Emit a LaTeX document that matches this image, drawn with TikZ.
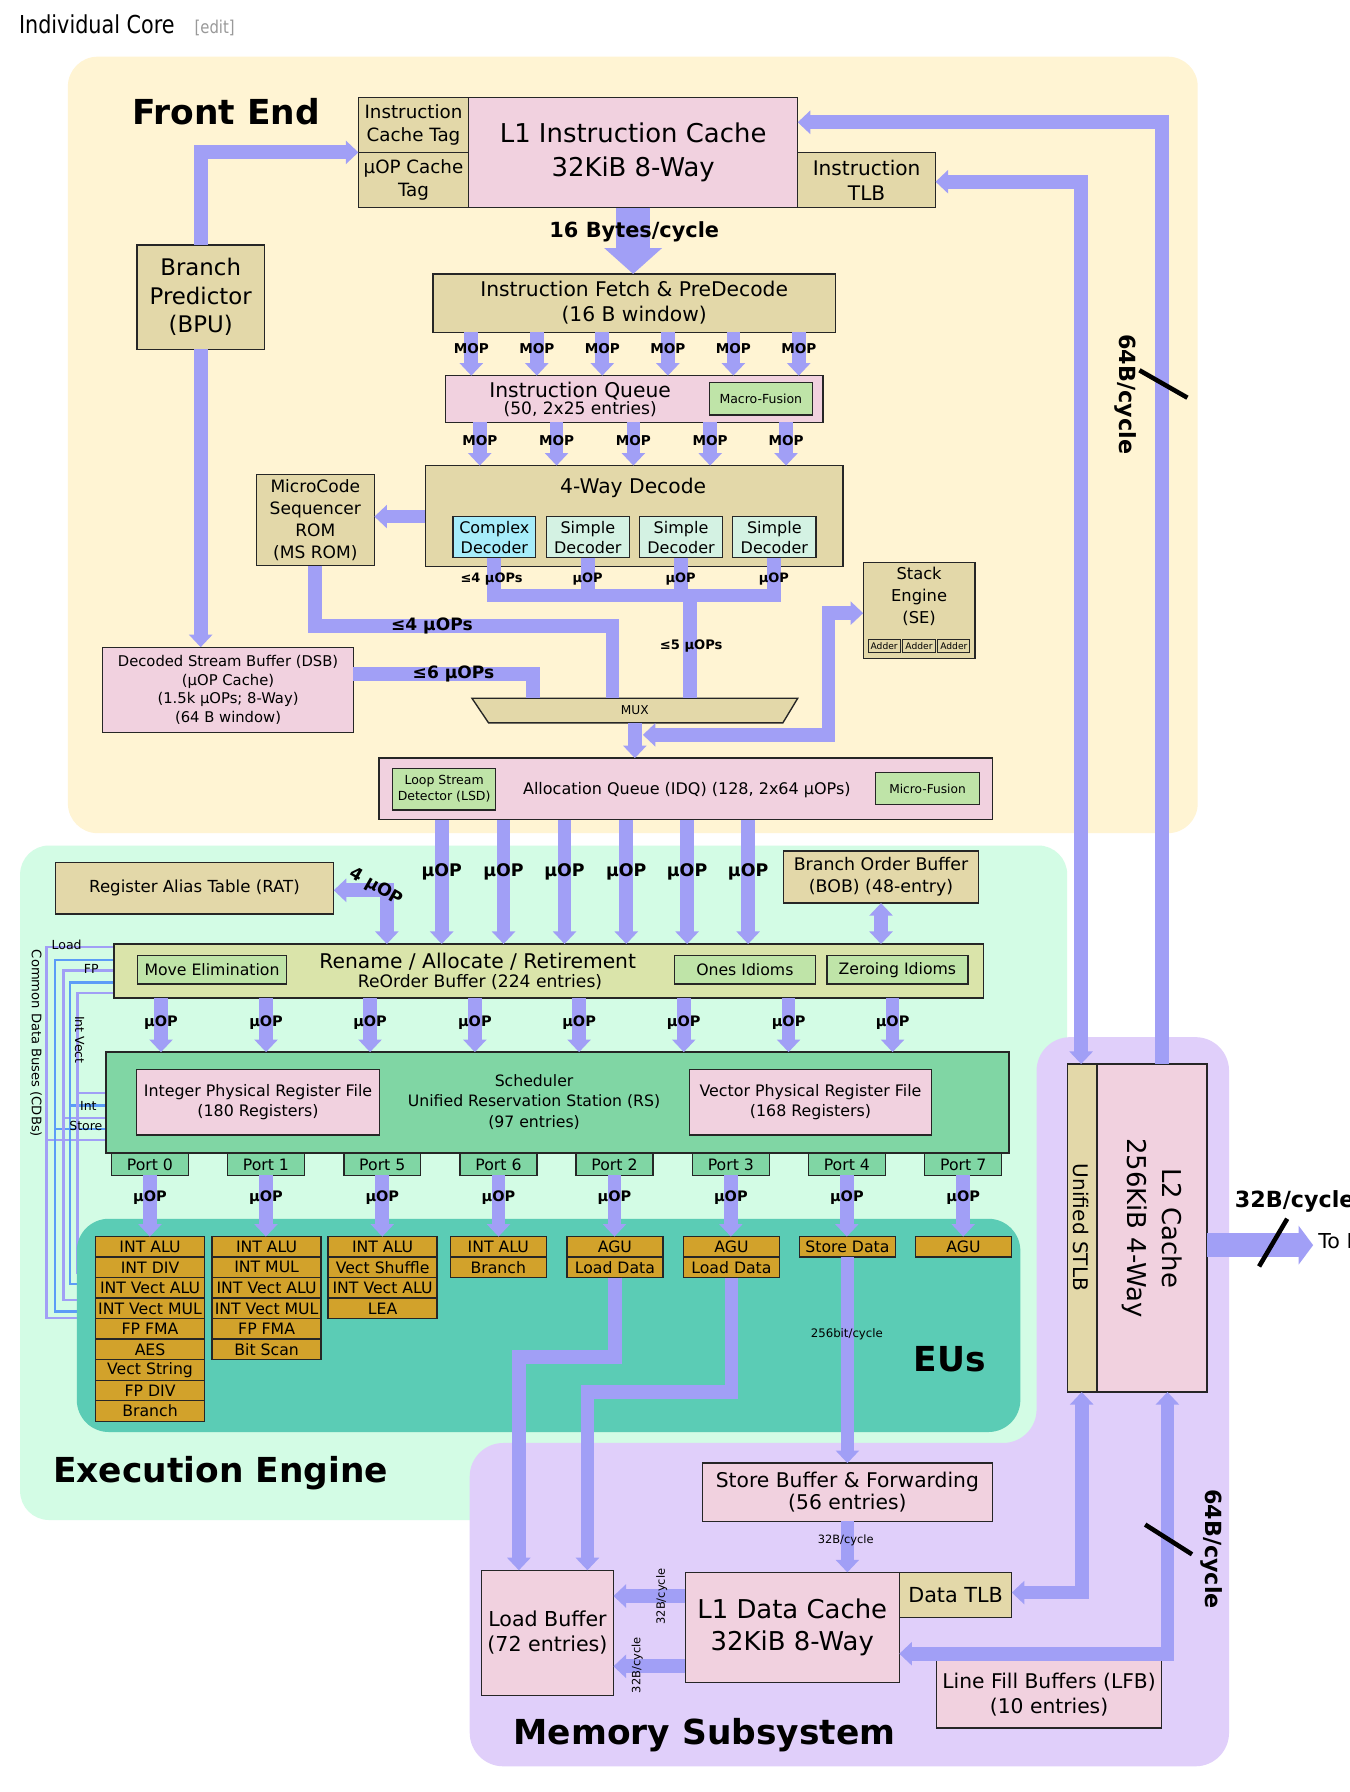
\documentclass[tikz,border=0pt]{standalone}
\usepackage{fontspec}
\setmainfont{DejaVu Sans}
\newfontfamily\hdrfont[FakeStretch=0.84]{DejaVu Sans}
\usetikzlibrary{arrows.meta}
\pgfdeclarelayer{back}
\pgfdeclarelayer{wires}
\pgfdeclarelayer{eus}
\pgfsetlayers{back,wires,eus,main}

\newcommand{\fsz}[2]{\fontsize{#1}{#2}\selectfont}

\definecolor{febg}{HTML}{FFF4D3}
\definecolor{eebg}{HTML}{D3FCE5}
\definecolor{membg}{HTML}{E0CFFA}
\definecolor{eubg}{HTML}{5BCCB5}
\definecolor{tanc}{HTML}{E3D8A9}
\definecolor{pinkc}{HTML}{F1D1DF}
\definecolor{lgrn}{HTML}{BFE4A8}
\definecolor{decc}{HTML}{D4F2E3}
\definecolor{cyanc}{HTML}{A7EDFA}
\definecolor{renc}{HTML}{DAE4AA}
\definecolor{schc}{HTML}{80D6A4}
\definecolor{euc}{HTML}{D2A22B}
\definecolor{arrc}{HTML}{A19FF6}
\definecolor{cdbblue}{HTML}{5C9CF7}

% box from corner (#3,#4) to corner (#5,#6), in picture units
\newcommand{\mkbox}[7][]{%
  \pgfmathsetmacro{\bxw}{(#5-#3)*0.75}%
  \pgfmathsetmacro{\bxh}{(#6-#4)*0.75}%
  \node[box,minimum width=\bxw pt,minimum height=\bxh pt,#1] (#2) at ({(#3+#5)/2},{(#4+#6)/2}) {#7};}

% column of execution units under a port
\newcommand{\eucol}[4]{%
  \pgfmathsetmacro{\euw}{#3*0.75}%
  \foreach \t [count=\k] in {#4}{%
    \pgfmathsetmacro{\euy}{1082+(\k-0.5)*17.95}%
    \node[eubox,minimum width=\euw pt] (#1-\k) at (#2,\euy) {\t};}}

\begin{document}
\begin{tikzpicture}[x=0.75pt,y=-0.75pt,
  box/.style={draw=black!85,line width=0.9pt,inner sep=0pt,outer sep=0pt,align=center},
  tanbox/.style={box,fill=tanc},
  pinkbox/.style={box,fill=pinkc},
  grnbox/.style={box,fill=lgrn},
  eubox/.style={box,fill=euc,minimum height=13.46pt,font=\fsz{10.3}{12}},
  arr/.style={draw=arrc,line width=9pt,line cap=butt,line join=miter},
  >={Triangle[width=15pt,length=8.25pt]},
  bigarr/.style={draw=arrc,line width=22.5pt,-{Triangle[width=37pt,length=17pt]}},
  l3arr/.style={draw=arrc,line width=15.75pt,-{Triangle[width=25pt,length=9.5pt]}},
  cdbl/.style={draw=arrc,line width=1.65pt,line join=miter},
  cdbk/.style={draw=cdbblue,line width=1.65pt,line join=miter},
  slash/.style={draw=black,line width=3pt},
  lbl/.style={anchor=base,inner sep=0pt},
  mop/.style={lbl,font=\bfseries\fsz{8.9}{10}},
  uop/.style={lbl,font=\bfseries\fsz{9.5}{11}},
  uopb/.style={lbl,font=\bfseries\fsz{11.4}{13}},
  dlbl/.style={lbl,font=\bfseries\fsz{8.5}{10}},
  title/.style={lbl,font=\bfseries\fsz{22.6}{26}},
  rotl/.style={inner sep=0pt,align=center},
]
\useasboundingbox (0,0) rectangle (1181,1568);

% region backgrounds
\begin{pgfonlayer}{back}
\fill[white] (0,0) rectangle (1181,1568);
\fill[febg,rounded corners=19.5pt] (59.4,49.6) rectangle (1048,729);
\fill[eebg,rounded corners=19pt] (17.6,739.8) rectangle (933.8,1330);
\fill[membg,rounded corners=22pt] (411,1545.5) -- (411,1262.6) -- (907,1262.6) -- (907,907.5) -- (1075.4,907.5) -- (1075.4,1545.5) -- cycle;
\end{pgfonlayer}
\begin{pgfonlayer}{eus}
\fill[eubg,rounded corners=21pt] (67.2,1066.4) rectangle (892.8,1253);
\end{pgfonlayer}

% heading
\node[lbl,anchor=base west,font=\hdrfont\fsz{16.2}{19}] (hdr) at (16.4,29.2) {Individual Core};
\node[lbl,anchor=base west,text=black!40,font=\hdrfont\fsz{11.6}{14}] (hdredit) at (170,29.2) {[edit]};

% ---------------- Front End ----------------
\mkbox[tanbox,font=\fsz{12}{15.3}]{tagI}{313.6}{85.2}{410}{133.3}{Instruction\\Cache Tag}
\mkbox[tanbox,font=\fsz{12}{15.3}]{tagU}{313.6}{133.3}{410}{181.7}{µOP Cache\\Tag}
\mkbox[pinkbox,font=\fsz{17}{21.9}]{l1i}{410}{85.2}{698}{181.7}{L1 Instruction Cache\\32KiB 8-Way}
\mkbox[tanbox,font=\fsz{13.2}{16.4}]{itlb}{698}{133.3}{818.6}{181.7}{Instruction\\TLB}
\mkbox[tanbox,font=\fsz{15}{18.75}]{bpu}{120}{214.3}{231.2}{305.6}{Branch\\Predictor\\(BPU)}
\mkbox[tanbox,font=\fsz{13.3}{16.4}]{fetch}{378.8}{239.7}{731}{290.7}{Instruction Fetch \& PreDecode\\(16 B window)}
\mkbox[pinkbox]{iq}{390}{328.7}{720.2}{369.5}{}
\node[lbl,font=\fsz{13.3}{15}] (iqt1) at (507.6,347.7) {Instruction Queue};
\node[lbl,font=\fsz{11.2}{13}] (iqt2) at (507.7,362.7) {(50, 2x25 entries)};
\mkbox[grnbox,font=\fsz{8.2}{10}]{macf}{620.6}{334.8}{710.8}{363}{Macro-Fusion}
\mkbox[tanbox]{dec}{372.2}{407.4}{737.7}{495.7}{}
\node[lbl,font=\fsz{13.3}{15}] (dect) at (554,432.2) {4-Way Decode};
\mkbox[box,fill=cyanc,font=\fsz{10.5}{13.1}]{cdec}{396.4}{452}{468.7}{487.9}{Complex\\Decoder}
\mkbox[box,fill=decc,font=\fsz{10.5}{13.1}]{sdecA}{478}{452}{550.7}{487.9}{Simple\\Decoder}
\mkbox[box,fill=decc,font=\fsz{10.5}{13.1}]{sdecB}{559.6}{452}{632.2}{487.9}{Simple\\Decoder}
\mkbox[box,fill=decc,font=\fsz{10.5}{13.1}]{sdecC}{641.2}{452}{713.9}{487.9}{Simple\\Decoder}
\mkbox[tanbox,font=\fsz{11.2}{14.6}]{msrom}{224.2}{415.3}{327.6}{494.9}{MicroCode\\Sequencer\\ROM\\(MS ROM)}
\mkbox[pinkbox,font=\fsz{9.7}{12.4}]{dsb}{89.8}{566.3}{309.3}{641}{Decoded Stream Buffer (DSB)\\(µOP Cache)\\(1.5k µOPs; 8-Way)\\(64 B window)}
\filldraw[fill=tanc,draw=black!85,line width=0.9pt] (413,611) -- (698,611) -- (685,632.5) -- (427.5,632.5) -- cycle;
\node[inner sep=0pt,outer sep=0pt,minimum width=213.75pt,minimum height=16.1pt,font=\fsz{8}{10}] (mux) at (555.5,621.75) {MUX};
\mkbox[tanbox]{se}{755.3}{492}{853}{576.2}{}
\node[rotl,font=\fsz{10.7}{14.25}] (set) at (804.2,522) {Stack\\Engine\\(SE)};
\mkbox[tanbox,line width=0.7pt,font=\fsz{6}{7}]{addA}{759.6}{559.3}{787.7}{571}{Adder}
\mkbox[tanbox,line width=0.7pt,font=\fsz{6}{7}]{addB}{790}{559.3}{818.2}{571}{Adder}
\mkbox[tanbox,line width=0.7pt,font=\fsz{6}{7}]{addC}{820.6}{559.3}{848.6}{571}{Adder}
\mkbox[pinkbox]{idq}{331.6}{663.4}{868.6}{717.3}{}
\node[lbl,font=\fsz{10.5}{12}] (idqt) at (601,694.8) {Allocation Queue (IDQ) (128, 2x64 µOPs)};
\mkbox[grnbox,font=\fsz{8.2}{10.4}]{lsd}{343.7}{672.2}{433.5}{708.6}{Loop Stream\\Detector (LSD)}
\mkbox[grnbox,font=\fsz{8}{10}]{mfus}{766.3}{676.2}{856.9}{704.2}{Micro-Fusion}

% ---------------- Execution Engine ----------------
\mkbox[tanbox,font=\fsz{10.9}{13}]{rat}{48.4}{754.4}{292}{799.6}{Register Alias Table (RAT)}
\mkbox[tanbox,font=\fsz{11.4}{14.25}]{bob}{685.8}{744.5}{856}{790.2}{Branch Order Buffer\\(BOB) (48-entry)}
\mkbox[box,fill=renc]{ren}{99.6}{826}{860.4}{873.3}{}
\node[lbl,font=\fsz{13.3}{15}] (rent1) at (418,847.8) {Rename / Allocate / Retirement};
\node[lbl,font=\fsz{11.25}{13}] (rent2) at (420,864.3) {ReOrder Buffer (224 entries)};
\mkbox[grnbox,font=\fsz{10.3}{12}]{mve}{120.3}{836}{250.7}{861}{Move Elimination}
\mkbox[grnbox,font=\fsz{10.3}{12}]{ones}{590}{836}{713.5}{861}{Ones Idioms}
\mkbox[grnbox,font=\fsz{10.3}{12}]{zero}{723.5}{836}{847}{861}{Zeroing Idioms}
\mkbox[box,fill=schc]{sch}{92.6}{920.6}{883}{1009}{}
\node[rotl,font=\fsz{10.3}{13.5}] (scht) at (467.3,964) {Scheduler\\Unified Reservation Station (RS)\\(97 entries)};
\mkbox[pinkbox,font=\fsz{10.4}{13.1}]{iprf}{119.5}{936}{332}{993}{Integer Physical Register File\\(180 Registers)}
\mkbox[pinkbox,font=\fsz{10.4}{13.1}]{vprf}{603.4}{936}{815}{993}{Vector Physical Register File\\(168 Registers)}

% ports
\foreach \pn/\cx in {0/131.2,1/232.7,5/334.5,6/436.2,2/537.7,3/639.5,4/741,7/842.8}{
  \pgfmathsetmacro{\pa}{\cx-33.65}\pgfmathsetmacro{\pb}{\cx+33.65}
  \mkbox[box,fill=schc,font=\fsz{10.3}{12}]{port\pn}{\pa}{1009.5}{\pb}{1028.5}{Port \pn}
}

% execution units
\eucol{e0}{131.3}{95.4}{INT ALU,INT DIV,INT Vect ALU,INT Vect MUL,FP FMA,AES,Vect String,FP DIV,Branch}
\eucol{e1}{233.3}{95.4}{INT ALU,INT MUL,INT Vect ALU,INT Vect MUL,FP FMA,Bit Scan}
\eucol{e5}{334.8}{95.4}{INT ALU,Vect Shuffle,INT Vect ALU,LEA}
\eucol{e6}{436}{84}{INT ALU,Branch}
\eucol{e2}{538}{84}{AGU,Load Data}
\eucol{e3}{640}{84}{AGU,Load Data}
\eucol{e4}{741.5}{84}{Store Data}
\eucol{e7}{843}{84}{AGU}

% ---------------- Memory Subsystem ----------------
\mkbox[pinkbox,font=\fsz{13.3}{14.85}]{sb}{614.6}{1280.2}{868.3}{1331.2}{Store Buffer \& Forwarding\\(56 entries)}
\mkbox[pinkbox,font=\fsz{17}{21.6}]{l1d}{599.6}{1375.8}{786.9}{1472}{L1 Data Cache\\32KiB 8-Way}
\mkbox[tanbox,font=\fsz{13.6}{16}]{dtlb}{786.9}{1375.8}{885.3}{1415.2}{Data TLB}
\mkbox[pinkbox,font=\fsz{13.5}{16.35}]{lb}{421.3}{1374}{536.8}{1483.4}{Load Buffer\\(72 entries)}
\mkbox[pinkbox,font=\fsz{13.3}{16.35}]{lfb}{819.5}{1453}{1016.4}{1512}{Line Fill Buffers (LFB)\\(10 entries)}
\mkbox[tanbox]{stlb}{934}{931}{960}{1218}{}
\mkbox[pinkbox]{l2}{960}{931}{1056}{1218}{}
\node[rotl,rotate=-90,font=\fsz{13.2}{15}] (stlbt) at (946.3,1074.1) {Unified STLB};
\node[rotl,rotate=-90,font=\fsz{17}{22.9}] (l2t) at (1008.2,1074.6) {L2 Cache\\256KiB 4-Way};

% ---------------- common data buses ----------------
\begin{pgfonlayer}{wires}
\draw[cdbl] (ren.west |- 0,828.8) -- (40.8,828.8) -- (40.8,1153.3) -- (90,1153.3);
\draw[cdbl] (40.8,997.3) -- (sch.west |- 0,997.3);
\draw[cdbk] (ren.west |- 0,839.8) -- (48.1,839.8) -- (48.1,1147.5) -- (90,1147.5);
\draw[cdbk] (48.1,988) -- (sch.west |- 0,988);
\draw[cdbl] (ren.west |- 0,849.2) -- (55.4,849.2) -- (55.4,1137.3) -- (90,1137.3);
\draw[cdbl] (55.4,978.3) -- (sch.west |- 0,978.3);
\draw[cdbk] (ren.west |- 0,859.7) -- (61.2,859.7) -- (61.2,1123.5) -- (90,1123.5);
\draw[cdbk] (61.2,967.3) -- (sch.west |- 0,967.3);
\draw[cdbl] (ren.west |- 0,869) -- (67.7,869) -- (67.7,1114) -- (90,1114);
\draw[cdbl] (67.7,956.5) -- (sch.west |- 0,956.5);
\end{pgfonlayer}
\node[lbl,font=\fsz{8.2}{10}] (cl1) at (58.3,830.7) {Load};
\node[lbl,font=\fsz{8.2}{10}] (cl3) at (79.9,852) {FP};
\node[lbl,font=\fsz{8.2}{10}] (cl4) at (77.3,971.3) {Int};
\node[lbl,font=\fsz{8.2}{10}] (cl2) at (75.1,989.6) {Store};
\node[rotl,rotate=-90,font=\fsz{8.2}{10}] (cl5) at (69.6,909.8) {Int Vect};
\node[rotl,rotate=-90,font=\fsz{8.6}{10}] (cdbt) at (31.5,913) {Common Data Buses (CDBs)};

% ---------------- connectors ----------------
\draw[arr,->] (bpu.north) |- (tagU.north west);
\draw[arr,->] (bpu.south) -- (bpu.south |- dsb.north);
\draw[bigarr] (l1i.south) -- (l1i.south |- fetch.north);
\foreach \xx [count=\k] in {412.4,469.7,527,584.4,641.7,698.9}{
  \draw[arr,->] (\xx,0 |- fetch.south) -- (\xx,0 |- iq.north);
  \node[mop] (mopa\k) at (\xx,309) {MOP};
}
\foreach \xx [count=\k] in {419.8,487,554.2,621.4,687.8}{
  \draw[arr,->] (\xx,0 |- iq.south) -- (\xx,0 |- dec.north);
  \node[mop] (mopb\k) at (\xx,390.1) {MOP};
}
\draw[arr,->] (dec.west |- 0,452) -- (msrom.east |- 0,452);
\draw[arr] (msrom.south) -- (msrom.south |- 0,548) -- (536,548) -- (536,0 |- mux.north);
\draw[arr] (dsb.east |- 0,589.5) -- (466.5,589.5) -- (466.5,0 |- mux.north);
\coordinate (bus) at (604,521);
\draw[arr] (cdec.south) -- (cdec.south |- bus) -- (sdecC.south |- bus) -- (sdecC.south);
\draw[arr] (sdecA.south) -- (sdecA.south |- bus);
\draw[arr] (sdecB.south) -- (sdecB.south |- bus);
\draw[arr] (bus) -- (bus |- mux.north);
\draw[arr,->] (mux.south) -- (mux.south |- idq.north);
\coordinate (semux) at (562.5,643);
\draw[arr,<->] (semux) -- (725,643) |- (se.west |- 0,536.5);
\draw[arr,->] (1016.5,0 |- l2.north) -- (1016.5,107) -- (l1i.east |- 0,107);
\draw[arr,<->] (itlb.east |- 0,159) -- (946,159) -- (946,0 |- stlb.north);

\draw[arr,<->] (338.5,0 |- ren.north) -- (338.5,779) -- (rat.east |- 0,779);
\foreach \xx [count=\k] in {386.5,440.6,494,548,601.2,654.6}{
  \draw[arr,->] (\xx,0 |- idq.south) -- (\xx,0 |- ren.north);
  \node[uopb] (uopa\k) at (\xx,767.3) {µOP};
}
\draw[arr,<->] (bob.south) -- (bob.south |- ren.north);
\foreach \xx [count=\k] in {140.9,232.8,323.8,415.5,506.7,598.3,690,781}{
  \draw[arr,->] (\xx,0 |- ren.south) -- (\xx,0 |- sch.north);
  \node[uop] (uopb\k) at (\xx,898.4) {µOP};
}
\foreach \pn in {0,1,5,6,2,3,4,7}{
  \draw[arr,->] (port\pn.south) -- (port\pn.south |- e\pn-1.north);
  \node[uop] (uopc\pn) at (port\pn.south |- 0,1051.5) {µOP};
}
\draw[arr,->] (e2-2.south) -- (e2-2.south |- 0,1187.4) -- (454,1187.4) -- (454,0 |- lb.north);
\draw[arr,->] (e3-2.south) -- (e3-2.south |- 0,1218) -- (514,1218) -- (514,0 |- lb.north);
\draw[arr,->] (e4-1.south) -- (e4-1.south |- sb.north);
\draw[arr,->] (sb.south) -- (sb.south |- l1d.north);
\draw[arr,->] (l1d.west |- 0,1396.5) -- (lb.east |- 0,1396.5);
\draw[arr,->] (l1d.west |- 0,1458) -- (lb.east |- 0,1458);
\draw[arr,<->] (dtlb.east |- 0,1393.5) -- (946.5,1393.5) -- (946.5,0 |- stlb.south);
\draw[arr,<->] (1021.5,0 |- l2.south) -- (1021.5,1447) -- (l1d.east |- 0,1447);
\coordinate (tol3) at (1149,1089.5);
\draw[l3arr] (l2.east |- tol3) -- (tol3);

% bus width marks
\draw[slash] (997,324) -- (1039,348);
\draw[slash] (1002,1334) -- (1043,1360);
\draw[slash] (1101.7,1108.1) -- (1126.3,1066.4);

% ---------------- labels ----------------
\node[lbl,font=\bfseries\fsz{13.7}{16}] (l16) at (555,207.5) {16 Bytes/cycle};
\node[dlbl] (dl1) at (430.1,510) {≤4 µOPs};
\node[dlbl] (dl2) at (514.1,510) {µOP};
\node[dlbl] (dl3) at (595.5,510) {µOP};
\node[dlbl] (dl4) at (677.1,510) {µOP};
\node[lbl,font=\bfseries\fsz{11.2}{13}] (l4u) at (377.9,551.4) {≤4 µOPs};
\node[lbl,font=\bfseries\fsz{11.2}{13}] (l6u) at (396.8,594) {≤6 µOPs};
\node[lbl,font=\bfseries\fsz{8.6}{10}] (l5u) at (604.8,567.9) {≤5 µOPs};
\node[inner sep=0pt,rotate=-30,font=\bfseries\fsz{11.4}{13}] (l4uop) at (329,776) {4 µOP};
\node[rotl,rotate=-90,font=\bfseries\fsz{14.6}{17}] (l64a) at (985,345) {64B/cycle};
\node[rotl,rotate=-90,font=\bfseries\fsz{14.6}{17}] (l64b) at (1060.3,1355.3) {64B/cycle};
\node[lbl,anchor=base west,font=\bfseries\fsz{14.6}{17}] (l32) at (1080.2,1056.9) {32B/cycle};
\node[lbl,anchor=base west,font=\fsz{13.5}{16}] (tl3) at (1153.3,1092.8) {To L3};
\node[lbl,font=\fsz{7.7}{9}] (l256) at (741,1170.1) {256bit/cycle};
\node[lbl,font=\fsz{7.5}{9}] (l32s) at (740,1350.9) {32B/cycle};
\node[rotl,rotate=90,font=\fsz{7.5}{9}] (l32u) at (579,1397) {32B/cycle};
\node[rotl,rotate=90,font=\fsz{7.5}{9}] (l32d) at (557.5,1457) {32B/cycle};

\node[title] (tfe) at (198,108.6) {Front End};
\node[title] (tee) at (193,1297.6) {Execution Engine};
\node[title] (tms) at (616.5,1526.6) {Memory Subsystem};
\node[title] (teu) at (831,1200) {EUs};
\end{tikzpicture}
\end{document}
